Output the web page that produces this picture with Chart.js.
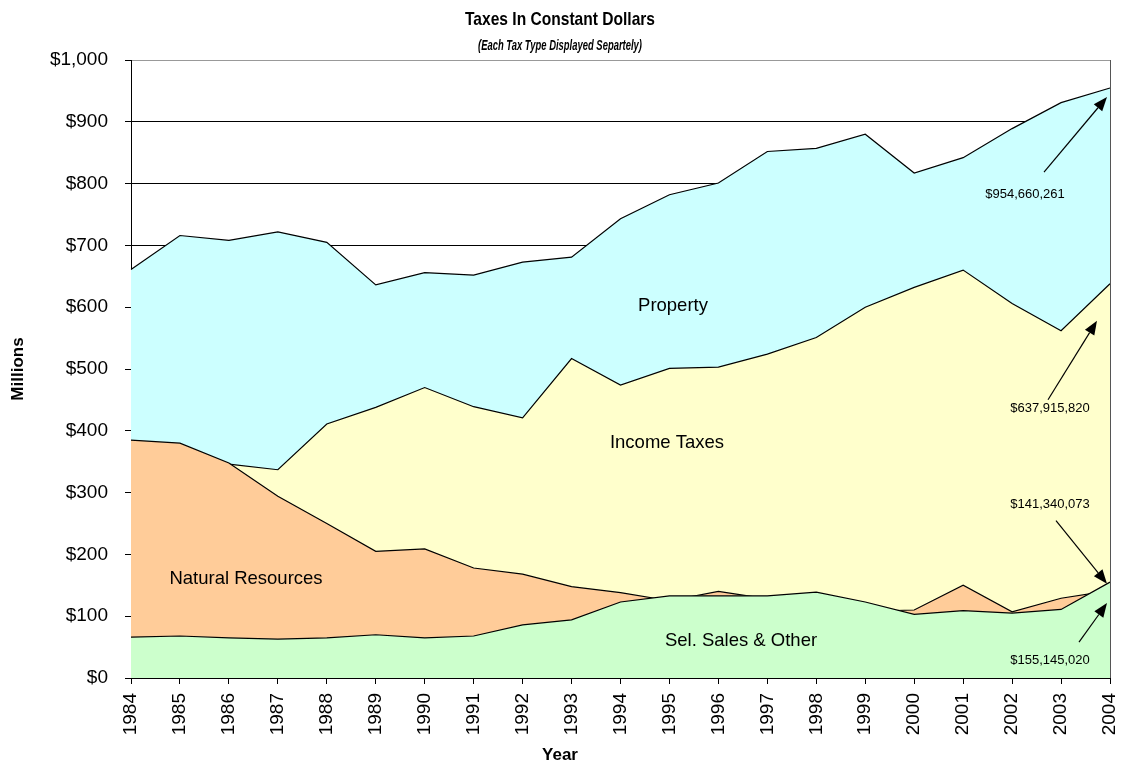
<!DOCTYPE html>
<html>
<head>
<meta charset="utf-8">
<script src="https://cdn.jsdelivr.net/npm/chart.js@4.4.1/dist/chart.umd.min.js"></script>
<style>
  html, body { margin: 0; padding: 0; background: #fff; }
  canvas { display: block; }
</style>
</head>
<body>
<canvas id="taxChart" width="1122" height="766"></canvas>
<script>
// Years on the x axis
const years = ['1984', '1985', '1986', '1987', '1988', '1989', '1990', '1991', '1992', '1993', '1994',
               '1995', '1996', '1997', '1998', '1999', '2000', '2001', '2002', '2003', '2004'];

// Millions of constant dollars, one array per tax type
const property = [661, 716, 708, 722, 705, 636, 656, 652, 673, 681, 743, 782, 801, 852, 857, 880, 817, 842, 889, 931, 954.660261];
const incomeTaxes = [350, 345, 346, 337, 411, 438, 470, 439, 421, 517, 474, 501, 503, 524, 551, 600, 632, 660, 606, 562, 637.915820];
const naturalResources = [385, 380, 348, 294, 250, 205, 209, 178, 168, 148, 138, 125, 140, 128, 122, 108, 110, 150, 107, 129, 141.340073];
const selSales = [66, 68, 65, 63, 65, 70, 65, 68, 86, 94, 123, 133, 133, 133, 139, 123, 103, 109, 105, 111, 155.145020];

// Exact 2004 figures used by the call-outs
const lastYearDollars = [954660261, 637915820, 141340073, 155145020];

// y axis ticks
const yMin = 0;
const yMax = 1000;
const yStep = 100;

const FONT = "'Liberation Sans', Arial, sans-serif";

function money(v) {
    return '$' + v.toLocaleString('en-US');
}

// Draw a straight arrow with a filled head
function drawArrow(ctx, x1, y1, x2, y2) {
    const ang = Math.atan2(y2 - y1, x2 - x1);
    const headLen = 14, headHalf = 5.5;
    const bx = x2 - headLen * Math.cos(ang);
    const by = y2 - headLen * Math.sin(ang);
    ctx.beginPath();
    ctx.moveTo(x1, y1);
    ctx.lineTo(bx, by);
    ctx.strokeStyle = '#000';
    ctx.lineWidth = 1.2;
    ctx.stroke();
    ctx.beginPath();
    ctx.moveTo(x2, y2);
    ctx.lineTo(bx + headHalf * Math.sin(ang), by - headHalf * Math.cos(ang));
    ctx.lineTo(bx - headHalf * Math.sin(ang), by + headHalf * Math.cos(ang));
    ctx.closePath();
    ctx.fillStyle = '#000';
    ctx.fill();
}

// Text squeezed horizontally to a target width (the original titles are condensed)
function squeezedText(ctx, text, cx, cy, font, targetW) {
    ctx.save();
    ctx.font = font;
    const w = ctx.measureText(text).width;
    ctx.translate(cx, cy);
    ctx.scale(Math.min(1, targetW / w), 1);
    ctx.textAlign = 'center';
    ctx.textBaseline = 'middle';
    ctx.fillStyle = '#000';
    ctx.fillText(text, 0, 0);
    ctx.restore();
}

const decorPlugin = {
    id: 'decor',
    afterDatasetsDraw(chart) {
        const ctx = chart.ctx;
        const area = chart.chartArea;
        // plot frame on the right
        ctx.save();
        ctx.strokeStyle = '#555';
        ctx.lineWidth = 1;
        ctx.beginPath();
        ctx.moveTo(area.right + 0.5, area.top);
        ctx.lineTo(area.right + 0.5, area.bottom);
        ctx.stroke();
        ctx.restore();
    },
    afterDraw(chart) {
        const ctx = chart.ctx;
        const xs = chart.scales.x;
        const ys = chart.scales.y;

        // Titles
        squeezedText(ctx, 'Taxes In Constant Dollars', 560, 20, 'bold 19px ' + FONT, 190);
        squeezedText(ctx, '(Each Tax Type Displayed Separtely)', 560, 46, 'italic bold 15px ' + FONT, 164);

        // Axis titles
        ctx.save();
        ctx.fillStyle = '#000';
        ctx.font = 'bold 17px ' + FONT;
        ctx.textAlign = 'center';
        ctx.textBaseline = 'middle';
        ctx.fillText('Year', 560, 755);
        ctx.translate(18, 369);
        ctx.rotate(-Math.PI / 2);
        ctx.fillText('Millions', 0, 0);
        ctx.restore();

        // Area labels
        ctx.save();
        ctx.fillStyle = '#000';
        ctx.font = '18.5px ' + FONT;
        ctx.textAlign = 'center';
        ctx.textBaseline = 'middle';
        ctx.fillText('Property', 673, 306);
        ctx.fillText('Income Taxes', 667, 443);
        ctx.fillText('Natural Resources', 246, 579);
        ctx.fillText('Sel. Sales & Other', 741, 641);
        ctx.restore();

        // Call-outs for the 2004 values
        const last = years.length - 1;
        const px = xs.getPixelForValue(last);
        const series = [property, incomeTaxes, naturalResources, selSales];
        // [text dx, text dy, tail dx, tail dy, tip dx, tip dy] relative to the 2004 point
        const callouts = [
            [-85, 106, -66, 84, -3, 9],
            [-60, 125, -62, 116, -13, 37],
            [-60, -86, -54, -70, -3, -7],
            [-60, 78, -31, 60, -3, 21]
        ];
        ctx.save();
        ctx.font = '13px ' + FONT;
        ctx.textAlign = 'center';
        ctx.textBaseline = 'middle';
        series.forEach((s, i) => {
            const py = ys.getPixelForValue(s[last]);
            const c = callouts[i];
            ctx.fillStyle = '#000';
            ctx.fillText(money(lastYearDollars[i]), px + c[0], py + c[1]);
            drawArrow(ctx, px + c[2], py + c[3], px + c[4], py + c[5]);
        });
        ctx.restore();
    }
};

function areaSet(label, data, color) {
    return {
        label: label,
        data: data,
        fill: 'origin',
        backgroundColor: color,
        borderColor: '#000',
        borderWidth: 1.2,
        pointRadius: 0,
        tension: 0
    };
}

document.addEventListener('DOMContentLoaded', () => {
    const ctx = document.getElementById('taxChart').getContext('2d');

    new Chart(ctx, {
        type: 'line',
        data: {
            labels: years,
            // first dataset is drawn on top, last one at the back
            datasets: [
                areaSet('Sel. Sales & Other', selSales, '#CCFFCC'),
                areaSet('Natural Resources', naturalResources, '#FFCC99'),
                areaSet('Income Taxes', incomeTaxes, '#FFFFCC'),
                areaSet('Property', property, '#CCFFFF')
            ]
        },
        options: {
            responsive: false,
            animation: false,
            devicePixelRatio: 1,
            layout: { padding: { top: 60, right: 12, left: 0, bottom: 0 } },
            plugins: {
                legend: { display: false },
                tooltip: { enabled: false }
            },
            scales: {
                x: {
                    offset: false,
                    grid: {
                        drawOnChartArea: false,
                        color: '#000',
                        tickLength: 6
                    },
                    border: { color: '#000', width: 1 },
                    ticks: {
                        autoSkip: false,
                        minRotation: 90,
                        maxRotation: 90,
                        padding: 9,
                        color: '#000',
                        font: { family: FONT, size: 19 }
                    },
                    afterFit(scale) {
                        scale.height = 88;
                        scale.paddingLeft = 0;
                        scale.paddingRight = 0;
                    }
                },
                y: {
                    min: yMin,
                    max: yMax,
                    grid: {
                        color: (c) => (c.tick && c.tick.value === yMax) ? '#999' : '#000',
                        tickColor: '#000',
                        tickLength: 6
                    },
                    border: { color: '#000', width: 1 },
                    ticks: {
                        stepSize: yStep,
                        padding: 17,
                        color: '#000',
                        font: { family: FONT, size: 19 },
                        callback: (v) => money(v)
                    },
                    afterFit(scale) {
                        scale.width = 131;
                        scale.paddingTop = 0;
                        scale.paddingBottom = 0;
                    }
                }
            }
        },
        plugins: [decorPlugin]
    });
});
</script>
</body>
</html>
